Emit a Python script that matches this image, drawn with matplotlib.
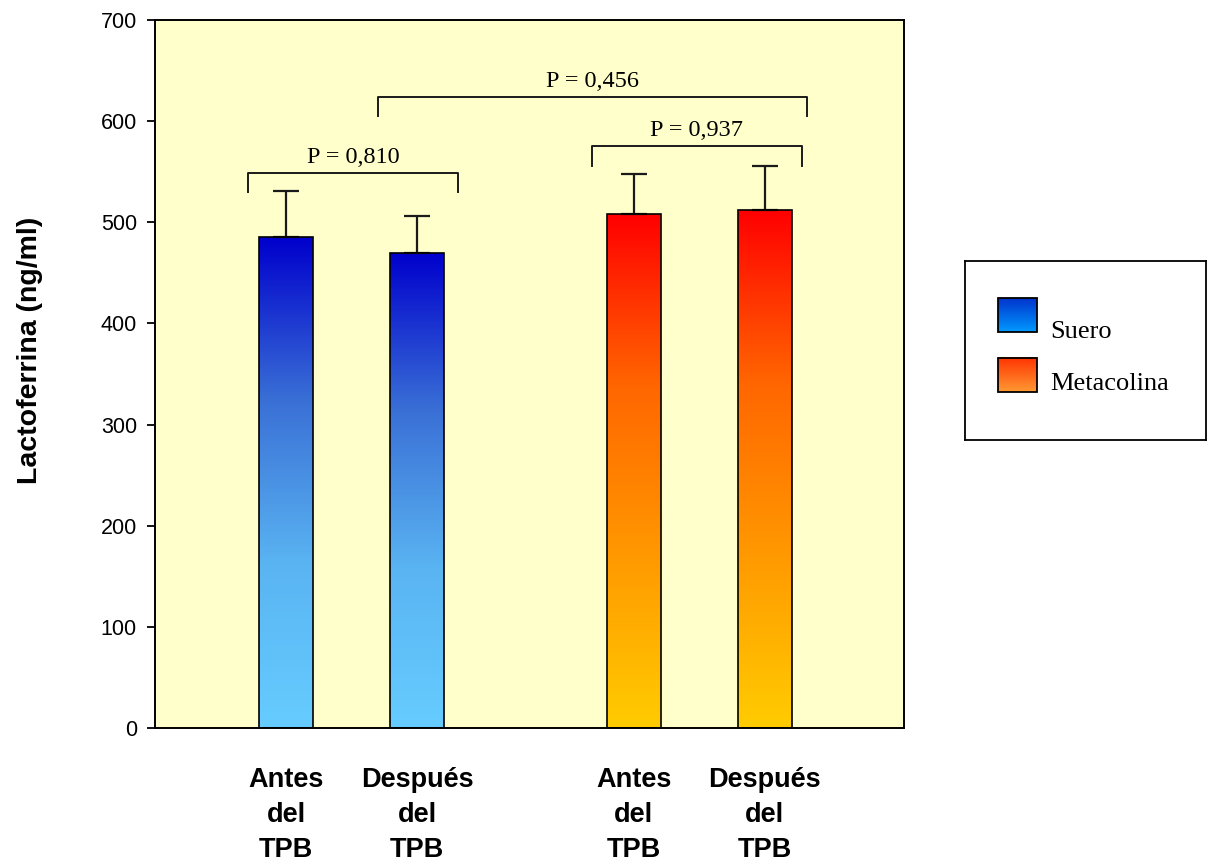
import numpy as np
import matplotlib.pyplot as plt
from matplotlib.colors import LinearSegmentedColormap

# datos: lactoferrina antes / despues del TPB
labels = ['Antes\ndel\nTPB', 'Después\ndel\nTPB', 'Antes\ndel\nTPB', 'Después\ndel\nTPB']
positions = [1, 2, 3.65, 4.65]
means = [485, 470, 508, 512]
errors = [46, 36, 40, 44]
groups = ['Suero', 'Suero', 'Metacolina', 'Metacolina']

legend_labels = ['Suero', 'Metacolina']
yticks = [0, 100, 200, 300, 400, 500, 600, 700]

# comparaciones (x inicio, x fin, altura, texto)
brackets = [
    (0.71, 2.31, 549, 'P = 0,810'),
    (3.33, 4.93, 575, 'P = 0,937'),
    (1.70, 4.97, 624, 'P = 0,456'),
]

bar_cmaps = {
    'Suero': LinearSegmentedColormap.from_list('suero', ['#66CCFF', '#5AB4F2', '#3A70D6', '#0000CC']),
    'Metacolina': LinearSegmentedColormap.from_list('meta', ['#FFCC00', '#FF9900', '#FF6600', '#FF0000']),
}
legend_cmaps = {
    'Suero': LinearSegmentedColormap.from_list('ls', ['#0099FF', '#0033CC']),
    'Metacolina': LinearSegmentedColormap.from_list('lm', ['#FF9933', '#FF3300']),
}

serif = 'Liberation Serif'
sans = 'Liberation Sans'

fig = plt.figure(figsize=(12.08, 8.65), dpi=100)
ax = fig.add_axes([0.1283, 0.1584, 0.62, 0.8185])
ax.set_facecolor('#FFFFCC')

grad = np.linspace(0, 1, 256).reshape(-1, 1)
bars = ax.bar(positions, means, width=0.41, facecolor='none', edgecolor='black',
              linewidth=1.2, zorder=3)
for bar, g in zip(bars, groups):
    x, y = bar.get_xy()
    w, h = bar.get_width(), bar.get_height()
    im = ax.imshow(grad, extent=[x, x + w, y, y + h], origin='lower',
                   cmap=bar_cmaps[g], aspect='auto', zorder=2)
    im.set_clip_path(bar)

ax.errorbar(positions, means, yerr=[np.zeros(len(errors)), errors], fmt='none',
            ecolor='#1a1a1a', elinewidth=1.6, capsize=9.5, capthick=1.6, zorder=2.5)

for x0, x1, yb, txt in brackets:
    ax.plot([x0, x0, x1, x1], [yb - 19, yb, yb, yb - 19], color='#1a1a1a', lw=1.4, zorder=4)
    ax.text((x0 + x1) / 2, yb + 5, txt, ha='center', va='bottom', fontsize=17.5,
            family=serif)

ax.set_xlim(0.0, 5.71)
ax.set_ylim(0, 700)
ax.set_yticks(yticks)
ax.set_yticklabels([str(t) for t in yticks], fontsize=15.5, family=sans)
ax.tick_params(axis='y', direction='out', length=6, width=1.3, pad=7)
ax.set_xticks(positions)
ax.set_xticklabels(labels, fontsize=19.5, fontweight='bold', family=sans, linespacing=1.45)
ax.tick_params(axis='x', length=0, pad=28)
for s in ax.spines.values():
    s.set_linewidth(1.4)

fig.text(30 / 1208, 1 - 350 / 865, 'Lactoferrina (ng/ml)', rotation=90, ha='center',
         va='center', fontsize=20.5, fontweight='bold', family=sans)

# leyenda
lax = fig.add_axes([965 / 1208, 1 - 440 / 865, 241 / 1208, 179 / 865])
baselines = [77, 129]
tops = [37, 97]
for lab, top, base in zip(legend_labels, tops, baselines):
    lax.imshow(grad, extent=[33, 72, top + 34, top], origin='lower',
               cmap=legend_cmaps[lab], aspect='auto')
    lax.add_patch(plt.Rectangle((33, top), 39, 34, fill=False, edgecolor='black', lw=1.3))
    lax.text(85, base, lab, fontsize=19, family=serif, va='baseline', ha='left')
lax.set_xlim(0, 241)
lax.set_ylim(179, 0)
lax.set_xticks([])
lax.set_yticks([])
for s in lax.spines.values():
    s.set_linewidth(1.3)

fig.savefig('out.png', dpi=100)
